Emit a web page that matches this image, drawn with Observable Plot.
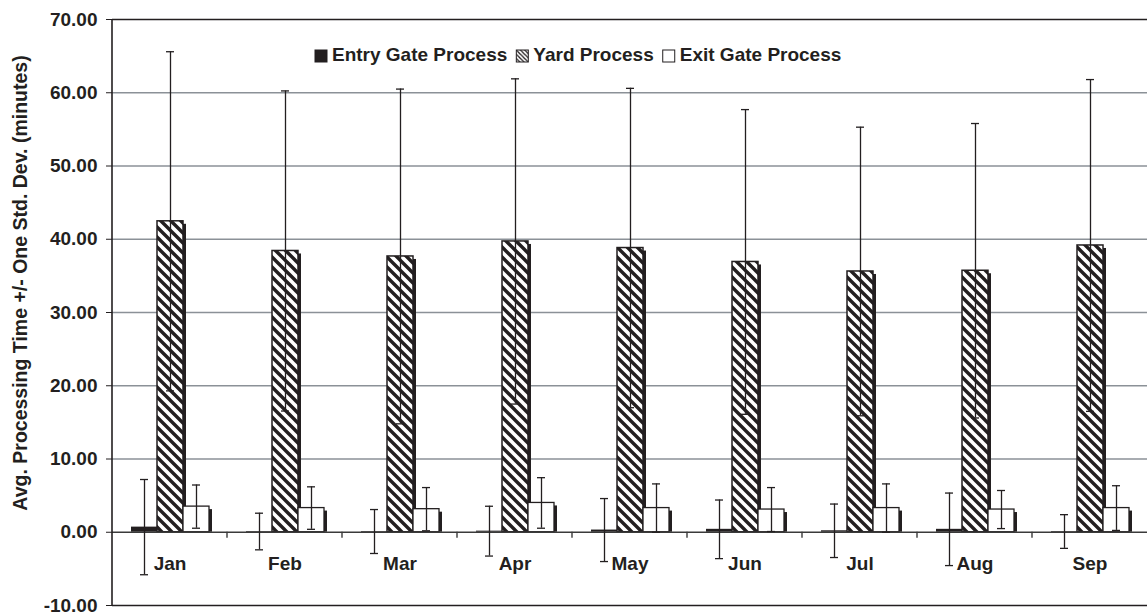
<!DOCTYPE html>
<html>
<head>
<meta charset="utf-8">
<script src="https://cdn.jsdelivr.net/npm/d3@7"></script>
<script src="https://cdn.jsdelivr.net/npm/@observablehq/plot@0.6"></script>
<style>
  html, body { margin: 0; padding: 0; background: #fff; }
  #chart { width: 1147px; height: 615px; }
</style>
</head>
<body>
<div id="chart"></div>
<script>
// ---- data ----
const months = ["Jan", "Feb", "Mar", "Apr", "May", "Jun", "Jul", "Aug", "Sep"];
const series = ["Entry Gate Process", "Yard Process", "Exit Gate Process"];
const entryMean = [0.70, 0.10, 0.10, 0.15, 0.30, 0.40, 0.20, 0.40, 0.10];
const entrySD   = [6.50, 2.50, 3.00, 3.40, 4.30, 4.00, 3.65, 4.95, 2.30];
const yardMean  = [42.45, 38.40, 37.65, 39.70, 38.80, 36.90, 35.60, 35.70, 39.15];
const yardSD    = [23.15, 21.85, 22.85, 22.20, 21.80, 20.80, 19.70, 20.10, 22.65];
const exitMean  = [3.50, 3.30, 3.15, 4.00, 3.30, 3.10, 3.30, 3.10, 3.30];
const exitSD    = [2.95, 2.90, 2.95, 3.45, 3.30, 3.00, 3.30, 2.60, 3.05];
const yTicks    = [-10, 0, 10, 20, 30, 40, 50, 60, 70];
const gridVals  = [10, 20, 30, 40, 50, 60];
const yLabel    = "Avg. Processing Time +/- One Std. Dev. (minutes)";

const means = [entryMean, yardMean, exitMean];
const sds = [entrySD, yardSD, exitSD];
const data = months.flatMap((m, i) => series.map((s, j) => ({
  month: m, series: s, mean: means[j][i], sd: sds[j][i]
})));
const bySeries = s => data.filter(d => d.series === s);

// ---- style ----
const W = 1147, H = 615;
const FONT = "'Liberation Sans', Arial, Helvetica, sans-serif";
const INK = "#231f20";
const GRID = "#8b9197";
const FS = 19;         // tick + month labels
const FS_LEG = 19;     // legend
const FS_TITLE = 19.5; // y axis title

const chart = Plot.plot({
  width: W, height: H,
  marginLeft: 112, marginRight: 0, marginTop: 19, marginBottom: 10,
  style: { fontFamily: FONT, fontSize: FS + "px", fontWeight: "bold", color: INK, background: "#fff" },
  fx: { domain: months, padding: 0, axis: null, label: null },
  x: { domain: series, paddingInner: 0, paddingOuter: 0.63, axis: null },
  y: { domain: [-10, 70], ticks: yTicks, tickFormat: d => d.toFixed(2), tickSize: 6, tickPadding: 9, label: null },
  marks: [
    Plot.ruleY(gridVals, { stroke: GRID, strokeWidth: 1.5 }),
    // entry gate bars
    Plot.barY(bySeries(series[0]), { fx: "month", x: "series", y: "mean", fill: INK }),
    // yard bars (shadow + hatched bar)
    Plot.barY(bySeries(series[1]), { fx: "month", x: "series", y: "mean", fill: INK, dx: 3, insetTop: 3 }),
    Plot.barY(bySeries(series[1]), { fx: "month", x: "series", y: "mean", fill: "url(#yardHatch)", stroke: INK, strokeWidth: 1.5 }),
    // exit gate bars (shadow + white bar)
    Plot.barY(bySeries(series[2]), { fx: "month", x: "series", y: "mean", fill: INK, dx: 3, insetTop: 3 }),
    Plot.barY(bySeries(series[2]), { fx: "month", x: "series", y: "mean", fill: "#fff", stroke: INK, strokeWidth: 1.3 }),
    // baseline and frame lines
    Plot.ruleY([0], { stroke: "#3a3a3a", strokeWidth: 1.6 }),
    Plot.ruleY([70, -10], { stroke: INK, strokeWidth: 1.5 }),
    // error bars
    Plot.ruleX(data, { fx: "month", x: "series", y1: d => d.mean - d.sd, y2: d => d.mean + d.sd, stroke: INK, strokeWidth: 1.3 }),
    Plot.tickY(data, { fx: "month", x: "series", y: d => d.mean + d.sd, stroke: INK, strokeWidth: 1.3, insetLeft: 9, insetRight: 9 }),
    Plot.tickY(data, { fx: "month", x: "series", y: d => d.mean - d.sd, stroke: INK, strokeWidth: 1.3, insetLeft: 9, insetRight: 9 }),
    // month labels
    Plot.text(months, { fx: d => d, text: d => d, frameAnchor: "bottom", dy: -42, lineAnchor: "middle",
      fill: INK, fontWeight: "bold", fontSize: FS })
  ]
});

document.getElementById("chart").appendChild(chart);

const svg = d3.select(chart);

// patterns
const defs = svg.insert("defs", ":first-child");
function hatch(id, size, sw) {
  const p = defs.append("pattern").attr("id", id).attr("patternUnits", "userSpaceOnUse")
    .attr("width", size).attr("height", size);
  p.append("rect").attr("width", size).attr("height", size).attr("fill", "#fff");
  p.append("path")
    .attr("d", `M${-size * 0.25},${-size * 0.25} L${size * 1.25},${size * 1.25} M${-size * 0.25},${size * 0.75} L${size * 0.25},${size * 1.25} M${size * 0.75},${-size * 0.25} L${size * 1.25},${size * 0.25}`)
    .attr("stroke", INK).attr("stroke-width", sw);
}
hatch("yardHatch", 10, 3.4);
hatch("legendHatch", 4.2, 1.3);

// scales from the plot
const fxS = chart.scale("fx");
const yS = chart.scale("y");
const y = d3.scaleLinear(yS.domain, yS.range);
const fx0 = Math.min(...fxS.range), fx1 = Math.max(...fxS.range);
const step = fxS.step || (fx1 - fx0) / months.length;

// left axis line
svg.append("line").attr("x1", fx0).attr("x2", fx0).attr("y1", y(70)).attr("y2", y(-10))
  .attr("stroke", INK).attr("stroke-width", 1.6);

// category boundary ticks on the zero line
months.slice(1).forEach((m, i) => {
  const x = fx0 + (i + 1) * step;
  svg.append("line").attr("x1", x).attr("x2", x).attr("y1", y(0)).attr("y2", y(0) + 6)
    .attr("stroke", "#3a3a3a").attr("stroke-width", 1.4);
});

// y axis title
svg.append("text")
  .attr("transform", `translate(22,283) rotate(-90)`)
  .attr("text-anchor", "middle").attr("dominant-baseline", "middle")
  .attr("fill", INK).attr("font-family", FONT).attr("font-weight", "bold").attr("font-size", FS_TITLE)
  .text(yLabel);

// legend inside plot area
const leg = svg.append("g").attr("font-family", FONT).attr("font-weight", "bold")
  .attr("font-size", FS_LEG).attr("fill", INK).attr("text-anchor", "start");
let lx = 315;
const ly = 56, sq = 12;
const swFill = [INK, "url(#legendHatch)", "#fff"];
series.forEach((s, j) => {
  leg.append("rect").attr("x", lx).attr("y", ly - sq / 2).attr("width", sq).attr("height", sq)
    .attr("fill", swFill[j]).attr("stroke", INK).attr("stroke-width", 1);
  const t = leg.append("text").attr("x", lx + sq + 5).attr("y", ly)
    .attr("text-anchor", "start").attr("dominant-baseline", "middle").text(s);
  lx += sq + 5 + t.node().getComputedTextLength() + 9;
});
</script>
</body>
</html>
